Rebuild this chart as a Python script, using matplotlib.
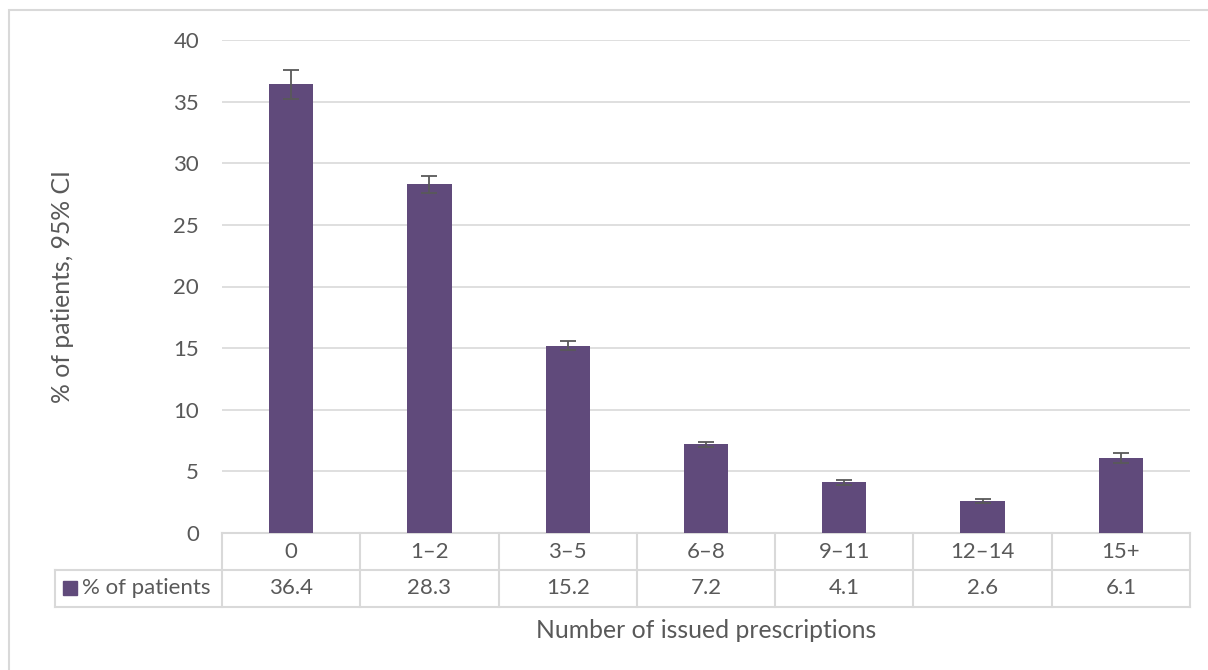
import numpy as np
import matplotlib.pyplot as plt
import matplotlib.transforms as mtransforms
from matplotlib.patches import Rectangle

plt.rcParams['font.family'] = ['Lato', 'DejaVu Sans']

categories = ['0', '1–2', '3–5', '6–8', '9–11', '12–14', '15+']
pct = [36.4, 28.3, 15.2, 7.2, 4.1, 2.6, 6.1]
ci_err = [1.2, 0.7, 0.35, 0.2, 0.2, 0.15, 0.4]
series_name = '% of patients'

bar_col = '#604A7B'
txt_col = '#595959'
grid_col = '#D9D9D9'
fs_tick = 16
fs_lab = 17.8

W, H = 1208, 670
fig = plt.figure(figsize=(W / 100, H / 100), dpi=100)

# chart area border (Excel style)
fig.patches.append(Rectangle((9 / W, -0.1), 1.1, 1 - 10 / H + 0.1, transform=fig.transFigure,
                             fill=False, edgecolor=grid_col, linewidth=1.5))

ax = fig.add_axes([222 / W, 1 - 533 / H, (1190 - 222) / W, (533 - 40) / H])
x = np.arange(len(categories))
ax.bar(x, pct, width=0.32, color=bar_col, zorder=3)
ax.errorbar(x, pct, yerr=ci_err, fmt='none', ecolor=txt_col, elinewidth=1.3,
            capsize=6, capthick=1.3, zorder=4)

ax.set_xlim(-0.5, len(categories) - 0.5)
ax.set_ylim(0, 40)
ax.set_yticks(range(0, 41, 5))
ax.tick_params(axis='y', length=0, pad=16.5, labelsize=fs_tick, labelcolor=txt_col)
ax.set_xticks([])
ax.grid(axis='y', color=grid_col, linewidth=1.2, zorder=0)
for s in ['top', 'right', 'left']:
    ax.spines[s].set_visible(False)
ax.spines['bottom'].set_color(grid_col)
ax.spines['bottom'].set_linewidth(1.5)

fig.text(62 / W, 1 - 287 / H, '% of patients, 95% CI', rotation=90, ha='center', va='center',
         fontsize=fs_lab, color=txt_col)

# data table below the axis
ah = 533 - 40
r1 = -(570 - 533) / ah
r2 = -(607 - 533) / ah
left = (55 - 222) / ((1190 - 222) / 7) - 0.5
tr = mtransforms.blended_transform_factory(ax.transData, ax.transAxes)
lk = dict(color=grid_col, linewidth=1.5, transform=tr, clip_on=False)
n = len(categories)
for i in range(n + 1):
    ax.plot([i - 0.5, i - 0.5], [0, r2], **lk)
ax.plot([left, left], [r1, r2], **lk)
ax.plot([left, n - 0.5], [r1, r1], **lk)
ax.plot([left, n - 0.5], [r2, r2], **lk)
for i, (c, v) in enumerate(zip(categories, pct)):
    ax.text(i, r1 / 2, c, ha='center', va='center', fontsize=fs_tick, color=txt_col, transform=tr)
    ax.text(i, (r1 + r2) / 2, f'{v:.1f}', ha='center', va='center', fontsize=fs_tick,
            color=txt_col, transform=tr)

# legend key inside the table
fig.patches.append(Rectangle((63 / W, 1 - 595 / H), 14 / W, 14 / H, transform=fig.transFigure,
                             color=bar_col))
fig.text(82 / W, 1 - 588 / H, series_name, ha='left', va='center', fontsize=fs_tick, color=txt_col)

fig.text(706 / W, 1 - 630 / H, 'Number of issued prescriptions', ha='center', va='center',
         fontsize=fs_lab, color=txt_col)

fig.savefig('out.png', dpi=100)
